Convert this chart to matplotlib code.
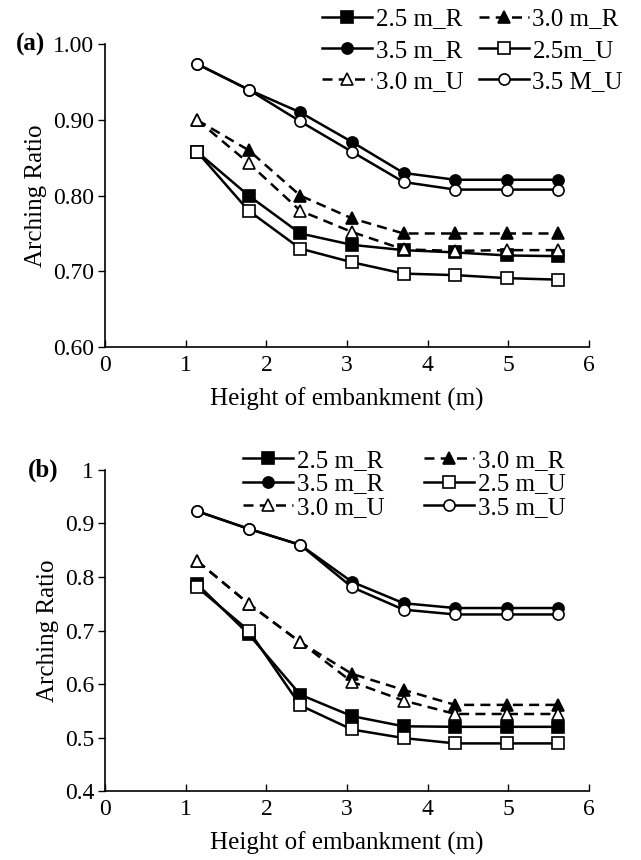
import matplotlib.pyplot as plt
import numpy as np

plt.rcParams['font.family'] = ['Liberation Serif', 'DejaVu Serif']
plt.rcParams['font.size'] = 17

# embankment heights (m)
height = [1.14, 1.78, 2.42, 3.06, 3.70, 4.34, 4.98, 5.62]

# panel (a)
a_25R = [0.858, 0.800, 0.750, 0.735, 0.728, 0.725, 0.721, 0.720]
a_30R = [0.900, 0.860, 0.800, 0.770, 0.750, 0.750, 0.750, 0.750]
a_35R = [0.974, 0.940, 0.910, 0.871, 0.830, 0.821, 0.821, 0.821]
a_25U = [0.858, 0.780, 0.730, 0.712, 0.697, 0.695, 0.691, 0.689]
a_30U = [0.900, 0.843, 0.780, 0.752, 0.729, 0.727, 0.728, 0.728]
a_35U = [0.974, 0.940, 0.898, 0.858, 0.818, 0.808, 0.808, 0.808]
a_labels = ['2.5 m_R', '3.0 m_R', '3.5 m_R', '2.5m_U', '3.0 m_U', '3.5 M_U']

# panel (b)
b_25R = [0.787, 0.693, 0.580, 0.540, 0.521, 0.520, 0.520, 0.520]
b_30R = [0.830, 0.750, 0.678, 0.619, 0.589, 0.561, 0.561, 0.561]
b_35R = [0.923, 0.890, 0.860, 0.791, 0.751, 0.742, 0.742, 0.742]
b_25U = [0.781, 0.700, 0.560, 0.515, 0.499, 0.489, 0.489, 0.489]
b_30U = [0.830, 0.750, 0.678, 0.604, 0.569, 0.544, 0.544, 0.544]
b_35U = [0.923, 0.890, 0.860, 0.781, 0.739, 0.730, 0.730, 0.730]
b_labels = ['2.5 m_R', '3.0 m_R', '3.5 m_R', '2.5 m_U', '3.0 m_U', '3.5 m_U']

styles = [
    dict(marker='s', ls='-', mfc='black'),
    dict(marker='^', ls='--', mfc='black'),
    dict(marker='o', ls='-', mfc='black'),
    dict(marker='s', ls='-', mfc='white'),
    dict(marker='^', ls='--', mfc='white'),
    dict(marker='o', ls='-', mfc='white'),
]

fig = plt.figure(figsize=(6.41, 8.6), dpi=100)
ax_a = fig.add_axes([0.164, 0.5965, 0.755, 0.352])
ax_b = fig.add_axes([0.164, 0.0802, 0.755, 0.3733])


def draw(ax, series, labels, ylim, yticks, yfmt, leg_anchor, lspace, cspace):
    handles = []
    for ys, lab, st in zip(series, labels, styles):
        h, = ax.plot(height, ys, color='black', lw=1.8, ms=8, mec='black',
                     mew=1.2, dashes=(4, 2.5) if st['ls'] == '--' else (None, None),
                     marker=st['marker'], mfc=st['mfc'], label=lab)
        handles.append(h)
    ax.set_xlim(0, 6)
    ax.set_ylim(*ylim)
    ax.set_xticks(range(0, 7))
    ax.set_yticks(yticks)
    ax.set_yticklabels([yfmt.format(v) for v in yticks])
    ax.spines['top'].set_visible(False)
    ax.spines['right'].set_visible(False)
    ax.spines['left'].set_linewidth(1.2)
    ax.spines['bottom'].set_linewidth(1.2)
    ax.tick_params(axis='x', direction='in', length=5, width=1, pad=6)
    ax.tick_params(axis='y', direction='out', length=5, width=1, pad=3)
    ax.set_xlabel('Height of embankment (m)', fontsize=18, labelpad=8)
    ax.set_ylabel('Arching Ratio', fontsize=18, labelpad=4)
    order = [0, 2, 4, 1, 3, 5]
    ax.legend([handles[i] for i in order], [labels[i] for i in order],
              ncol=2, loc='center right', bbox_to_anchor=leg_anchor,
              frameon=False, handlelength=2.0, handletextpad=0.15,
              columnspacing=cspace, labelspacing=lspace, borderaxespad=0,
              borderpad=0, fontsize=18)


draw(ax_a, [a_25R, a_30R, a_35R, a_25U, a_30U, a_35U], a_labels,
     (0.6, 1.0), [0.6, 0.7, 0.8, 0.9, 1.0], '{:.2f}', (1.07, 0.98), 0.35, 0.6)
draw(ax_b, [b_25R, b_30R, b_35R, b_25U, b_30U, b_35U], b_labels,
     (0.4, 1.0), [0.4, 0.5, 0.6, 0.7, 0.8, 0.9, 1.0], '{:g}', (0.952, 0.956), 0.05, 1.6)

fig.text(16 / 641, 1 - 44 / 860, '(a)', fontsize=18, fontweight='bold',
         ha='left', va='center')
fig.text(28 / 641, 1 - 470 / 860, '(b)', fontsize=18, fontweight='bold',
         ha='left', va='center')

fig.savefig('out.png', dpi=100)
